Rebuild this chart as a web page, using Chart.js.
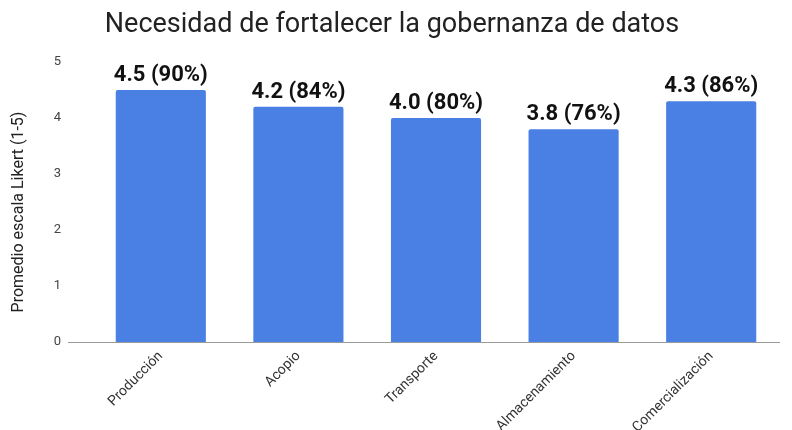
<!DOCTYPE html>
<html>
<head>
<meta charset="utf-8">
<script src="https://cdn.jsdelivr.net/npm/chart.js@4"></script>
<style>
html,body{margin:0;padding:0;background:#fff;}
#wrap{width:792px;height:430px;position:relative;}
</style>
</head>
<body>
<div id="wrap"><canvas id="c" width="792" height="430"></canvas></div>
<script>
const categories = ["Producción", "Acopio", "Transporte", "Almacenamiento", "Comercialización"];
const means = [4.5, 4.2, 4.0, 3.8, 4.3];
const percents = [90, 84, 80, 76, 86];
const yTicks = [0, 1, 2, 3, 4, 5];
const yTitle = 'Promedio escala Likert (1-5)';

const labelPlugin = {
  id: 'barLabels',
  afterDatasetsDraw(chart) {
    const ctx = chart.ctx;
    const meta = chart.getDatasetMeta(0);
    ctx.save();
    ctx.font = 'bold 22px Roboto';
    ctx.fillStyle = '#111';
    ctx.textAlign = 'center';
    ctx.textBaseline = 'alphabetic';
    meta.data.forEach((bar, i) => {
      ctx.fillText(means[i].toFixed(1) + ' (' + percents[i] + '%)', bar.x, bar.y - 9);
    });
    ctx.restore();
  }
};
const axisDecorPlugin = {
  id: 'axisDecor',
  beforeDatasetsDraw(chart) {
    const ctx = chart.ctx;
    const a = chart.chartArea;
    const y = Math.round(chart.scales.y.getPixelForValue(0)) + 0.5;
    ctx.save();
    ctx.strokeStyle = '#9a9a9a';
    ctx.lineWidth = 1;
    ctx.beginPath();
    ctx.moveTo(a.left - 24, y);
    ctx.lineTo(a.right, y);
    ctx.stroke();
    ctx.translate(19, (a.top + a.bottom) / 2 + 10);
    ctx.rotate(-Math.PI / 2);
    ctx.font = '16px Roboto';
    ctx.fillStyle = '#222';
    ctx.textAlign = 'center';
    ctx.textBaseline = 'middle';
    ctx.fillText(yTitle, 0, 0);
    ctx.restore();
  }
};

new Chart(document.getElementById('c'), {
  type: 'bar',
  data: {
    labels: categories,
    datasets: [{
      data: means,
      backgroundColor: '#4a80e4',
      borderRadius: 2,
      borderSkipped: 'bottom',
      barPercentage: 0.655,
      categoryPercentage: 1.0
    }]
  },
  options: {
    responsive: false,
    animation: false,
    devicePixelRatio: 1,
    layout: { padding: { left: 4, right: 12, top: 0, bottom: 0 } },
    plugins: {
      legend: { display: false },
      tooltip: { enabled: false },
      title: {
        display: true,
        text: 'Necesidad de fortalecer la gobernanza de datos',
        font: { family: 'Roboto', size: 27, weight: 'normal' },
        color: '#222',
        padding: { top: 9, bottom: 20.6 }
      }
    },
    scales: {
      y: {
        min: 0, max: 5,
        afterBuildTicks(s) { s.ticks = yTicks.map(v => ({ value: v })); },
        afterFit(s) { s.width = 88; },
        grid: { display: false, drawTicks: false },
        border: { display: false },
        ticks: { font: { family: 'Roboto', size: 13 }, color: '#444', padding: 31 },
        title: { display: false }
      },
      x: {
        afterFit(s) { s.height = 88; },
        grid: { display: false, drawTicks: false },
        border: { display: false },
        ticks: { font: { family: 'Roboto', size: 14 }, color: '#333', maxRotation: 45, minRotation: 45, padding: 6 }
      }
    }
  },
  plugins: [labelPlugin, axisDecorPlugin]
});
</script>
</body>
</html>
